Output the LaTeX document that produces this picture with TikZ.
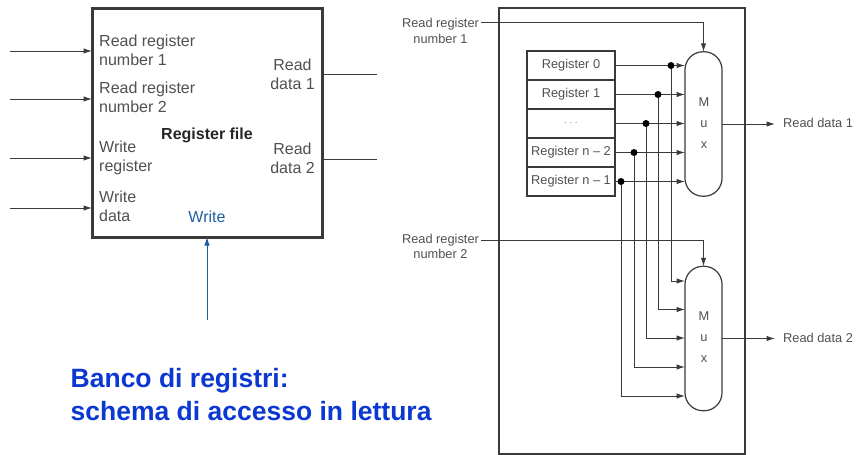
\documentclass[tikz,border=0pt]{standalone}
\usepackage{fontspec}
\setmainfont{Liberation Sans}
\usetikzlibrary{positioning}
\usetikzlibrary{calc,arrows.meta}
\definecolor{wiregray}{HTML}{3A3A3A}
\definecolor{textgray}{HTML}{505050}
\definecolor{writeblue}{HTML}{1F5F9F}
\definecolor{titleblue}{HTML}{0A38D0}
\tikzset{
	wire/.style={draw=wiregray,line width=1pt},
	sig/.style={wire,-{Latex[length=8.5pt,width=5.5pt]}},
	tap/.style={circle,fill=black,inner sep=0pt,minimum size=7pt},
	reglabel/.style={text=textgray,font=\fontsize{16}{19}\selectfont,align=left,inner sep=0pt},
	smalllabel/.style={text=textgray,font=\fontsize{12.8}{15.5}\selectfont,align=center,inner sep=0pt},
	regbox/.style={draw=wiregray,line width=1.8pt,outer sep=0pt,minimum width=88pt,minimum height=29pt,inner sep=0pt,smalllabel},
	muxbox/.style={draw=wiregray,line width=1.2pt,outer sep=0pt,minimum width=37pt,minimum height=144.5pt,rounded corners=18pt,fill=white},
}
\begin{document}
\begin{tikzpicture}[x=1pt,y=-1pt]
	\useasboundingbox (0,0) rectangle (857,455);
	% register file block
	\node[draw=wiregray,line width=3pt,outer sep=0pt,minimum width=230pt,minimum height=229pt,name=regfile] at (207,122.5) {};
	\foreach \i/\y in {1/51,2/99,3/158,4/208}{
		\coordinate (in\i) at (10,\y);
		\draw[sig] (in\i) -- (in\i -| regfile.west);
	}
	\foreach \i/\y in {1/74,2/159}{
		\coordinate (out\i) at (377,\y);
		\draw[wire] (out\i -| regfile.east) -- (out\i);
	}
	\coordinate (wr) at (207,320);
	\draw[draw=writeblue,line width=1pt,-{Latex[length=8.5pt,width=5.5pt]}] (wr) -- (regfile.south);
	\node[reglabel,anchor=west,name=lrr1] at (99,50.5) {Read register\\number 1};
	\node[reglabel,anchor=west,name=lrr2] at (99,97.5) {Read register\\number 2};
	\node[reglabel,anchor=west,name=lwr] at (99,157.5) {Write\\register};
	\node[reglabel,anchor=west,name=lwd] at (99,206.5) {Write\\data};
	\node[reglabel,align=center,name=lrd1] at (292.5,74.5) {Read\\data 1};
	\node[reglabel,align=center,name=lrd2] at (292.5,158.5) {Read\\data 2};
	\node[reglabel,font=\fontsize{16}{19}\bfseries\selectfont,text=black!85,name=lrf] at (207,135) {Register file};
	\node[reglabel,text=writeblue,name=lwrite] at (207,217) {Write};
	\node[anchor=west,inner sep=0pt,text=titleblue,align=left,font=\fontsize{26.5}{33}\bfseries\selectfont,name=title] at (70.5,394.5) {Banco di registri:\\schema di accesso in lettura};
	% read port detail
	\node[draw=wiregray,line width=2.4pt,outer sep=0pt,minimum width=246.5pt,minimum height=446pt,name=port] at (622,231) {};
	\foreach \i/\t/\y in {0/Register 0/65.5,1/Register 1/94.5,2/{\fontsize{8}{8}\selectfont. . .}/123.5,3/Register n -- 2/152.5,4/Register n -- 1/181.5}
		\node[regbox,name=reg\i] at (571,\y) {\t};
	\node[muxbox,name=muxa] at (703.5,124) {};
	\node[muxbox,name=muxb] at (703.5,338.5) {};
	\foreach \m/\y in {muxa/124,muxb/338}{
		\node[smalllabel,name=\m m] at (704,\y-22) {M};
		\node[smalllabel,name=\m u] at (704,\y) {u};
		\node[smalllabel,name=\m x] at (704,\y+21) {x};
	}
	\foreach \i/\x/\y in {0/671/281,1/658/309.5,2/646/338,3/634/367,4/621/396}{
		\coordinate (tap\i) at (reg\i.east -| \x,0);
		\coordinate (inb\i) at (muxb.west |- 0,\y);
		\draw[sig] (reg\i.east) -- (reg\i.east -| muxa.west);
		\draw[wire] (tap\i) -- (tap\i |- inb\i);
		\draw[sig] (tap\i |- inb\i) -- (inb\i);
		\node[tap,name=dot\i] at (tap\i) {};
	}
	% select lines and outputs
	\node[smalllabel,name=rra] at (440.5,31) {Read register\\number 1};
	\node[smalllabel,name=rrb] at (440.5,246.5) {Read register\\number 2};
	\coordinate (sela) at (481,22);
	\coordinate (selb) at (481,240);
	\draw[sig] (sela) -| (muxa.north);
	\draw[sig] (selb) -| (muxb.north);
	\node[smalllabel,anchor=west,name=rda] at (783,123) {Read data 1};
	\node[smalllabel,anchor=west,name=rdb] at (783,338) {Read data 2};
	\draw[sig] (muxa.east) -- (775,124);
	\draw[sig] (muxb.east) -- (775,338.5);
\end{tikzpicture}
\end{document}
